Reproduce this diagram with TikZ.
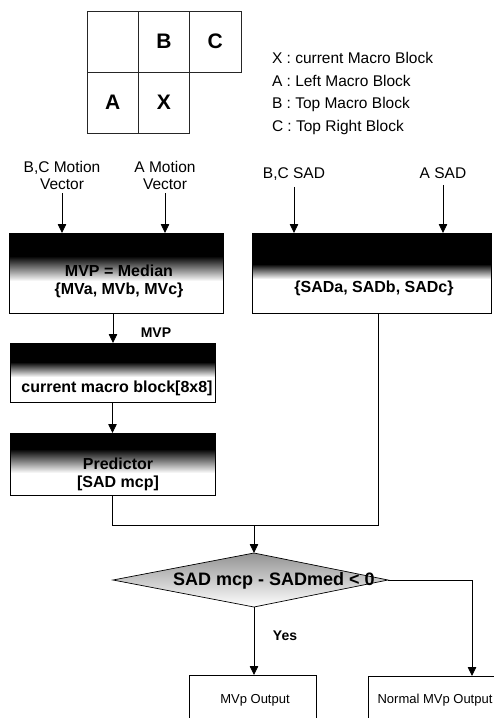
\documentclass[tikz,border=0pt]{standalone}
\usepackage{fontspec}
\setmainfont{Liberation Sans}
\usetikzlibrary{arrows.meta,shapes.geometric}
\begin{document}
\begin{tikzpicture}[x=1pt,y=-1pt,
  every node/.style={inner sep=0pt,outer sep=0pt},
  ln/.style={line width=0.8pt},
  arr/.style={line width=0.8pt,-{Triangle[length=9pt,width=8.5pt]}},
  frame/.style={draw,line width=0.7pt},
  cell/.style={draw=black!85,line width=0.6pt,minimum width=51.3pt,minimum height=61pt,font=\fontsize{21}{24}\selectfont\bfseries},
  legend/.style={anchor=base west,font=\fontsize{15.5}{18}\selectfont},
  lbl/.style={anchor=north,align=center,font=\fontsize{15.5}{17}\selectfont},
  bt/.style={align=center,font=\fontsize{16}{18}\selectfont\bfseries},
  ot/.style={anchor=base,font=\fontsize{13}{15}\selectfont},
  blk/.style={fill=black},
  fade/.style={top color=black,bottom color=white}]
\clip (0,0) rectangle (494,718);
\fill[white] (0,0) rectangle (494,718);

% ---- block grid ----
\node[cell] (g0) at (112.65,41.5) {};
\node[cell] (gB) at (163.95,41.5) {B};
\node[cell] (gC) at (215.25,41.5) {C};
\node[cell] (gA) at (112.65,102.5) {A};
\node[cell] (gX) at (163.95,102.5) {X};

% ---- legend ----
\node[legend] (l1) at (272,63) {X : current Macro Block};
\node[legend] (l2) at (272,86) {A : Left Macro Block};
\node[legend] (l3) at (272,108.5) {B : Top Macro Block};
\node[legend] (l4) at (272,131) {C : Top Right Block};

% ---- input labels ----
\node[lbl] (lbc) at (62,161) {B,C Motion\\Vector};
\node[lbl] (la) at (165,161) {A Motion\\Vector};
\node[lbl] (lbcs) at (294,168) {B,C SAD};
\node[lbl] (las) at (443,168) {A SAD};

% ---- box 1 : MVP median ----
\fill[blk] (9,233) rectangle (223,256);
\shade[fade] (9,256) rectangle (223,281);
\node[frame,minimum width=214pt,minimum height=80pt] (mvpbox) at (116,273) {};
\node[bt] (mvptxt) at (119,281) {MVP = Median\\\{MVa, MVb, MVc\}};

% ---- SAD box ----
\fill[blk] (252,233) rectangle (491,264);
\shade[fade] (252,264) rectangle (491,279);
\node[frame,minimum width=239pt,minimum height=80pt] (sadbox) at (371.5,273) {};
\node[bt,anchor=base] (sadtxt) at (374,292) {\{SADa, SADb, SADc\}};

% ---- box 2 : current macro block ----
\fill[blk] (10,343) rectangle (215,362);
\shade[fade] (10,362) rectangle (215,377);
\node[frame,minimum width=205pt,minimum height=59pt] (mcbox) at (112.5,372.5) {};
\node[bt,anchor=base] (mctxt) at (117,392) {current macro block[8x8]};

% ---- box 3 : predictor ----
\fill[blk] (10,433) rectangle (215,449);
\shade[fade] (10,449) rectangle (215,473);
\node[frame,minimum width=205pt,minimum height=62pt] (predbox) at (112.5,464) {};
\node[bt] (predtxt) at (118,474) {Predictor\\{[}SAD mcp{]}};

% ---- input arrows ----
\draw[arr,shorten <=4pt] (lbc.south) -- (lbc.south |- mvpbox.north);
\draw[arr,shorten <=4pt] (la.south) -- (la.south |- mvpbox.north);
\draw[arr,shorten <=6pt] (lbcs.south) -- (lbcs.south |- sadbox.north);
\draw[arr,shorten <=6pt] (las.south) -- (las.south |- sadbox.north);

% ---- MVP flow ----
\draw[arr] ([xshift=-3pt]mvpbox.south) -- ([xshift=-3pt]mvpbox.south |- mcbox.north);
\node[anchor=base,font=\fontsize{14}{16}\selectfont\bfseries] (mvplbl) at (156,337) {MVP};
\draw[arr] (mcbox.south) -- (predbox.north);

% ---- junction ----
\coordinate (jn) at (254,525);
\draw[ln] (predbox.south) |- ([xshift=7pt]sadbox.south |- jn) -- ([xshift=7pt]sadbox.south);

% ---- decision diamond ----
\coordinate (dT) at (254,553);
\coordinate (dB) at (254,607);
\coordinate (dL) at (113,580);
\coordinate (dR) at (388,580);
\shade[top color=gray!85,bottom color=white] (dT) -- (dR) -- (dB) -- (dL) -- cycle;
\draw[line width=0.7pt] (dT) -- (dR) -- (dB) -- (dL) -- cycle;
\node[anchor=base,font=\fontsize{18}{20}\selectfont\bfseries] (dtxt) at (274,585) {SAD mcp - SADmed < 0};
\draw[arr] (jn) -- (dT);

% ---- outputs ----
\node[frame,minimum width=127pt,minimum height=80pt,anchor=north] (mvpout) at (252.5,675) {};
\node[ot] (mvpouttxt) at (255,703) {MVp Output};
\node[frame,minimum width=137pt,minimum height=80pt,anchor=north] (nout) at (436.5,676) {};
\node[ot] (nouttxt) at (435,703) {Normal MVp Output};
\coordinate (nin) at (472,676);

\draw[arr] (dB) -- (dB |- mvpout.north);
\node[anchor=base,font=\fontsize{14}{16}\selectfont\bfseries] (yes) at (285,640) {Yes};
\draw[arr] (dR) -| (nin);
\end{tikzpicture}
\end{document}
